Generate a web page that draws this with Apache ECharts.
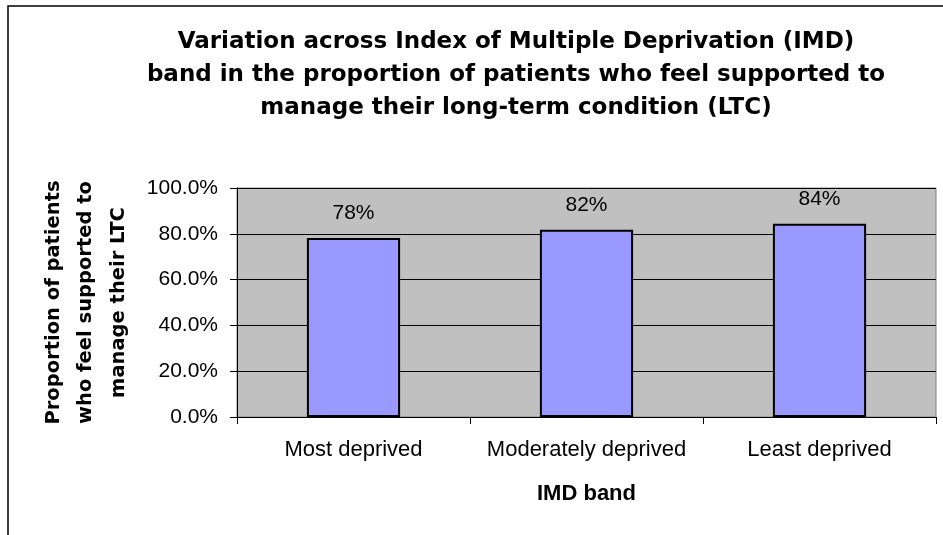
<!DOCTYPE html>
<html>
<head>
<meta charset="utf-8">
<script src="https://cdn.jsdelivr.net/npm/echarts@6/dist/echarts.min.js"></script>
<style>
html, body { margin: 0; padding: 0; background: #fff; }
#chart { width: 943px; height: 535px; }
</style>
</head>
<body>
<div id="chart"></div>
<script>
// IMD bands and share of patients feeling supported
var bands = ['Most deprived', 'Moderately deprived', 'Least deprived'];
var supported = [0.782, 0.818, 0.844];
var yTicks = [0, 0.2, 0.4, 0.6, 0.8, 1.0];

var titleText = 'Variation across Index of Multiple Deprivation (IMD)\n' +
	'band in the proportion of patients who feel supported to\n' +
	'manage their long-term condition (LTC)';
var yName = 'Proportion of patients\nwho feel supported to\nmanage their LTC';

var font = '"Liberation Sans", Arial, sans-serif';
// the bold headings in the original are set wide
var wideFont = '"DejaVu Sans", sans-serif';

var option = {
	backgroundColor : '#fff',
	animation : false,
	title : {
		text : titleText,
		left : 511,
		top : 21,
		textAlign : 'center',
		textStyle : {
			fontFamily : wideFont,
			fontSize : 23,
			fontWeight : 'bold',
			color : '#000',
			lineHeight : 33,
			align : 'center'
		}
	},
	graphic : [ {
		// outer frame of the chart
		type : 'rect',
		shape : { x : 8, y : 6, width : 960, height : 560 },
		style : { fill : 'none', stroke : '#000', lineWidth : 1.5 },
		silent : true
	} ],
	grid : {
		left : 237,
		right : 7,
		top : 188,
		bottom : 118,
		show : true,
		backgroundColor : '#C0C0C0',
		borderColor : '#808080',
		borderWidth : 1
	},
	xAxis : {
		type : 'category',
		data : bands,
		name : 'IMD band',
		nameLocation : 'middle',
		nameGap : 66,
		nameTextStyle : {
			fontFamily : font,
			fontSize : 22,
			fontWeight : 'bold',
			color : '#000'
		},
		axisLine : { lineStyle : { color : '#000', width : 1 } },
		axisTick : { show : true, length : 7, lineStyle : { color : '#000' } },
		axisLabel : {
			interval : 0,
			hideOverlap : false,
			fontFamily : font,
			fontSize : 22,
			color : '#000',
			margin : 22
		}
	},
	yAxis : {
		type : 'value',
		min : yTicks[0],
		max : yTicks[yTicks.length - 1],
		interval : 0.2,
		name : yName,
		nameLocation : 'middle',
		nameRotate : 90,
		nameGap : 102,
		nameTextStyle : {
			fontFamily : wideFont,
			fontSize : 19.5,
			fontWeight : 'bold',
			color : '#000',
			lineHeight : 32.5,
			align : 'center'
		},
		axisLine : { show : true, lineStyle : { color : '#000', width : 1 } },
		axisTick : { show : true, length : 7, lineStyle : { color : '#000' } },
		splitLine : { show : true, lineStyle : { color : '#000', width : 1 } },
		axisLabel : {
			fontFamily : font,
			fontSize : 21,
			color : '#000',
			margin : 19,
			formatter : function(v) {
				return (v * 100).toFixed(1) + '%';
			}
		}
	},
	series : [ {
		type : 'bar',
		data : supported,
		barWidth : '40%',
		itemStyle : {
			color : '#9999FF',
			borderColor : '#000',
			borderWidth : 2
		},
		label : {
			show : true,
			position : 'top',
			distance : 14,
			fontFamily : font,
			fontSize : 21,
			color : '#000',
			formatter : function(p) {
				return Math.round(p.value * 100) + '%';
			}
		}
	} ]
};

var myChart = echarts.init(document.getElementById('chart'), null, { renderer : 'canvas' });
myChart.setOption(option);
</script>
</body>
</html>
